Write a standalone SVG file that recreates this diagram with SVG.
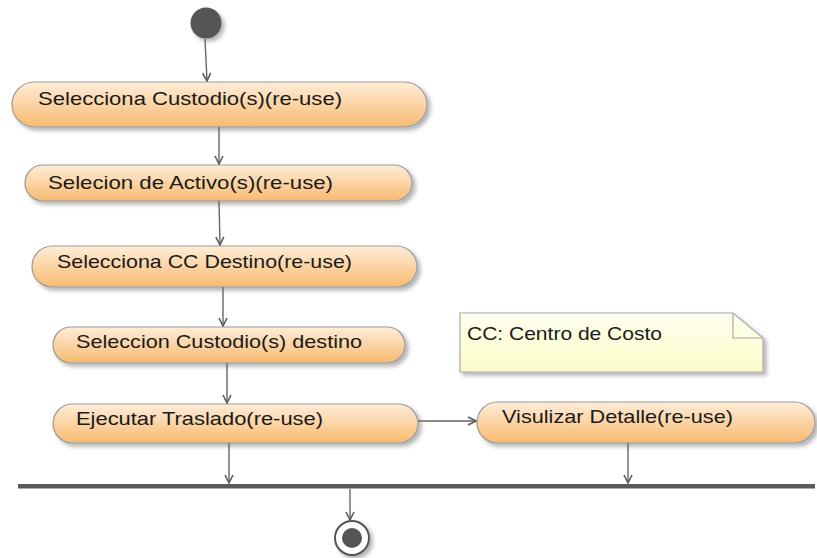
<svg xmlns="http://www.w3.org/2000/svg" width="817" height="558" viewBox="0 0 817 558">
<defs>
<linearGradient id="orange" x1="0" y1="0" x2="0" y2="1">
<stop offset="0" stop-color="#feedd9"/>
<stop offset="1" stop-color="#f8ba70"/>
</linearGradient>
<linearGradient id="note" x1="0" y1="0" x2="0" y2="1">
<stop offset="0" stop-color="#fffff0"/>
<stop offset="1" stop-color="#fcfcc8"/>
</linearGradient>
<filter id="shadow" x="-10%" y="-20%" width="130%" height="160%">
<feDropShadow dx="3" dy="3" stdDeviation="2" flood-color="#000" flood-opacity="0.3"/>
</filter>
<marker id="arrow" viewBox="0 0 10 10" refX="9" refY="5" markerWidth="10" markerHeight="10" markerUnits="userSpaceOnUse" orient="auto">
<path d="M1,1 L9,5 L1,9" fill="none" stroke="#5e5e5e" stroke-width="1.6"/>
</marker>
</defs>
<style>
.act{fill:url(#orange);stroke:#9a9a9a;stroke-width:1.2;filter:url(#shadow)}
.lbl{font-family:"Liberation Sans",Arial,sans-serif;font-size:18.5px;fill:#1a1a1a}
.edge{stroke:#666;stroke-width:1.4;fill:none;marker-end:url(#arrow)}
</style>

<g id="initial">
<circle cx="206" cy="23" r="15.5" fill="#555" filter="url(#shadow)"/>
</g>

<g id="n1">
<rect class="act" x="12" y="82" width="415" height="45" rx="22.5"/>
<text class="lbl" x="38" y="105" textLength="304" lengthAdjust="spacingAndGlyphs">Selecciona Custodio(s)(re-use)</text>
</g>
<g id="n2">
<rect class="act" x="25" y="165" width="387" height="36" rx="18"/>
<text class="lbl" x="48" y="189" textLength="285" lengthAdjust="spacingAndGlyphs">Selecion de Activo(s)(re-use)</text>
</g>
<g id="n3">
<rect class="act" x="32" y="246" width="385" height="41" rx="20.5"/>
<text class="lbl" x="57" y="268" textLength="295" lengthAdjust="spacingAndGlyphs">Selecciona CC Destino(re-use)</text>
</g>
<g id="n4">
<rect class="act" x="53" y="327" width="352" height="36" rx="18"/>
<text class="lbl" x="76" y="348" textLength="286" lengthAdjust="spacingAndGlyphs">Seleccion Custodio(s) destino</text>
</g>
<g id="n5">
<rect class="act" x="53" y="404" width="365" height="39" rx="19.5"/>
<text class="lbl" x="76" y="425" textLength="247" lengthAdjust="spacingAndGlyphs">Ejecutar Traslado(re-use)</text>
</g>
<g id="n6">
<rect class="act" x="477" y="402" width="338" height="41" rx="20.5"/>
<text class="lbl" x="502" y="423" textLength="231" lengthAdjust="spacingAndGlyphs">Visulizar Detalle(re-use)</text>
</g>

<g id="note">
<path d="M460,313 H733 L763,338 V372 H460 Z" fill="url(#note)" stroke="#a8a8a8" stroke-width="1.2" filter="url(#shadow)"/>
<path d="M733,313 V338 H763" fill="none" stroke="#a8a8a8" stroke-width="1.2"/>
<text class="lbl" x="467" y="340" textLength="195" lengthAdjust="spacingAndGlyphs">CC: Centro de Costo</text>
</g>

<g id="join">
<rect x="18" y="484" width="797" height="4.5" fill="#5a5a5a"/>
</g>

<g id="final">
<circle cx="352" cy="538" r="17" fill="#fff" stroke="#555" stroke-width="2" filter="url(#shadow)"/>
<circle cx="352" cy="538" r="10" fill="#555"/>
</g>

<g id="connectors">
<line class="edge" x1="205" y1="39" x2="207" y2="81"/>
<line class="edge" x1="219" y1="127" x2="219" y2="164"/>
<line class="edge" x1="219" y1="201" x2="220" y2="245"/>
<line class="edge" x1="223" y1="287" x2="223" y2="326"/>
<line class="edge" x1="227" y1="363" x2="227" y2="403"/>
<line class="edge" x1="229" y1="443" x2="229" y2="483"/>
<line class="edge" x1="418" y1="421" x2="476" y2="421"/>
<line class="edge" x1="628" y1="443" x2="628" y2="483"/>
<line class="edge" x1="350" y1="489" x2="350" y2="520"/>
</g>
</svg>
